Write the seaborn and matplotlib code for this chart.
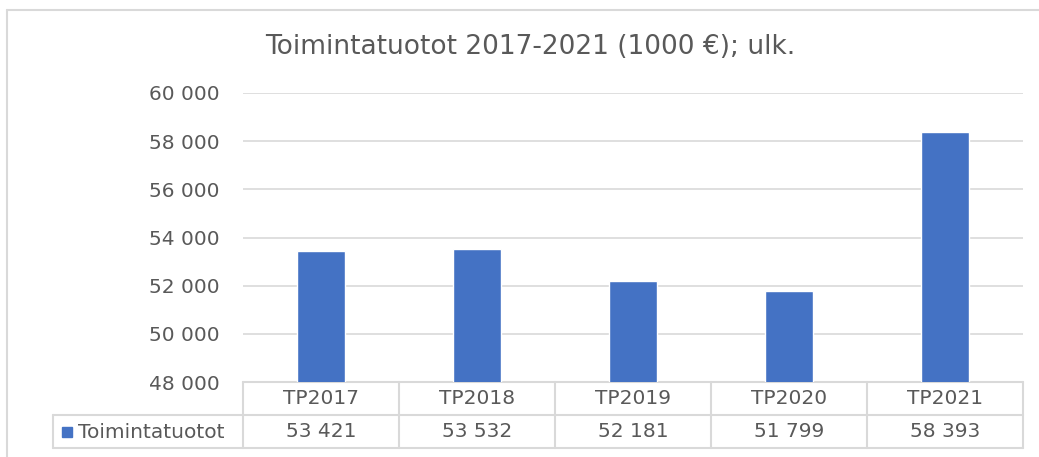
import matplotlib
matplotlib.use("Agg")
import matplotlib.pyplot as plt
from matplotlib.lines import Line2D
from matplotlib.patches import Rectangle
from matplotlib.ticker import FuncFormatter
import pandas as pd
import seaborn as sns

categories = ["TP2017", "TP2018", "TP2019", "TP2020", "TP2021"]
values = [53421, 53532, 52181, 51799, 58393]
series_name = "Toimintatuotot"
title = "Toimintatuotot 2017-2021 (1000 €); ulk."

df = pd.DataFrame({"vuosi": categories, "arvo": values})

sns.set_style("white")
plt.rcParams["font.family"] = ["DejaVu Sans"]

W, H = 1039, 457
fig = plt.figure(figsize=(W / 100, H / 100), dpi=100)
ax = fig.add_axes([243 / W, (H - 382) / H, (1023 - 243) / W, (382 - 93) / H])

blue = "#4472C4"
grid = "#d9d9d9"
txt = "#595959"
fs = 14.5

sns.barplot(data=df, x="vuosi", y="arvo", color=blue, width=0.31,
            saturation=1, ax=ax, zorder=3)
ax.set_xlim(-0.5, len(categories) - 0.5)
ax.set_ylim(48000, 60000)
ax.set_yticks(range(48000, 60001, 2000))
ax.yaxis.set_major_formatter(FuncFormatter(lambda v, p: f"{int(v):,}".replace(",", " ")))
ax.tick_params(axis="y", length=0, pad=17, labelsize=fs, labelcolor=txt)
ax.set_xticks([])
ax.set_xlabel("")
ax.set_ylabel("")
ax.grid(axis="y", color=grid, linewidth=1.2, zorder=0)
for s in ax.spines.values():
    s.set_visible(False)

# data table under the plot
row_h = 33 / (382 - 93)
tr = ax.get_xaxis_transform()
n = len(categories)
lk = dict(color=grid, linewidth=1.5, transform=tr, clip_on=False)
ax.add_line(Line2D([-0.5, n - 0.5], [0, 0], **lk))
left_x = -0.5 - (243 - 53) / 156
ax.add_line(Line2D([left_x, n - 0.5], [-row_h, -row_h], **lk))
ax.add_line(Line2D([left_x, n - 0.5], [-2 * row_h, -2 * row_h], **lk))
ax.add_line(Line2D([left_x, left_x], [-row_h, -2 * row_h], **lk))
for i in range(n + 1):
    ax.add_line(Line2D([i - 0.5, i - 0.5], [0, -2 * row_h], **lk))
for i, (c, v) in enumerate(zip(categories, values)):
    ax.text(i, -row_h / 2, c, transform=tr, ha="center", va="center",
            fontsize=fs, color=txt)
    ax.text(i, -1.5 * row_h, f"{v:,}".replace(",", " "), transform=tr,
            ha="center", va="center", fontsize=fs, color=txt)

# legend key in the table
fig.add_artist(Rectangle((62 / W, (H - 437) / H), 10 / W, 10 / H,
                         transform=fig.transFigure, color=blue))
fig.text(78 / W, (H - 432) / H, series_name, ha="left", va="center",
         fontsize=fs, color=txt)

fig.text(530 / W, (H - 47) / H, title, ha="center", va="center",
         fontsize=19, color=txt)

# outer chart frame
fig.add_artist(Line2D([7 / W, 1], [(H - 10) / H] * 2, color=grid,
                      linewidth=1.5, transform=fig.transFigure))
fig.add_artist(Line2D([7 / W] * 2, [0, (H - 10) / H], color=grid,
                      linewidth=1.5, transform=fig.transFigure))

fig.savefig("out.png", dpi=100)
